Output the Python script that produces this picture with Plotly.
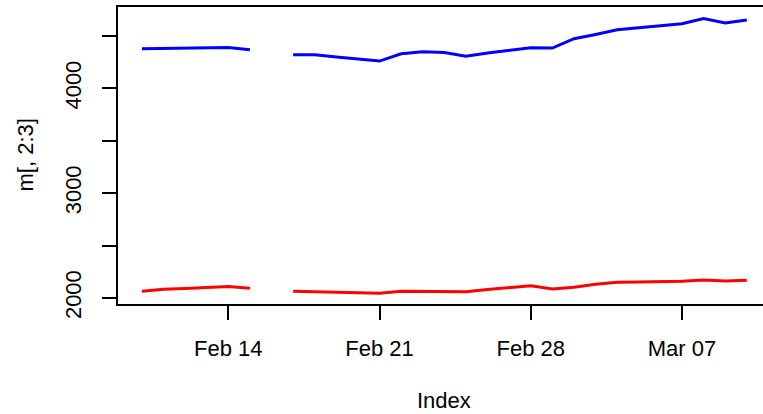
import plotly.graph_objects as go

dates = [
    "2021-02-10", "2021-02-11", "2021-02-12", "2021-02-13", "2021-02-14", "2021-02-15",
    "2021-02-16", "2021-02-17", "2021-02-18", "2021-02-19", "2021-02-20", "2021-02-21",
    "2021-02-22", "2021-02-23", "2021-02-24", "2021-02-25", "2021-02-26", "2021-02-27",
    "2021-02-28", "2021-03-01", "2021-03-02", "2021-03-03", "2021-03-04", "2021-03-05",
    "2021-03-06", "2021-03-07", "2021-03-08", "2021-03-09", "2021-03-10",
]
series_blue = [
    4378, 4381, 4384, 4388, 4391, 4369,
    None, 4321, 4321, 4300, 4280, 4261,
    4330, 4350, 4343, 4308, 4337, 4363,
    4388, 4385, 4474, 4515, 4560, 4579,
    4598, 4617, 4668, 4624, 4652,
]
series_red = [
    2064, 2083, 2091, 2099, 2108, 2093,
    None, 2064, 2059, 2054, 2050, 2045,
    2064, 2064, 2060, 2060, 2081, 2100,
    2117, 2086, 2102, 2131, 2150, 2153,
    2156, 2159, 2172, 2162, 2169,
]
x_tick_vals = ["2021-02-14", "2021-02-21", "2021-02-28", "2021-03-07"]
x_tick_text = ["Feb 14", "Feb 21", "Feb 28", "Mar 07"]
y_tick_vals = [2000, 2500, 3000, 3500, 4000, 4500]
y_tick_text = ["2000", "", "3000", "", "4000", ""]

FONT = "Liberation Sans, Arial, Helvetica, sans-serif"

fig = go.Figure()
fig.add_trace(go.Scatter(x=dates, y=series_blue, mode="lines",
                         line=dict(color="#0000FF", width=3), connectgaps=False))
fig.add_trace(go.Scatter(x=dates, y=series_red, mode="lines",
                         line=dict(color="#FF0000", width=3), connectgaps=False))

fig.update_layout(
    width=763, height=414,
    margin=dict(l=118, r=0, t=7, b=110),
    paper_bgcolor="white", plot_bgcolor="white",
    showlegend=False,
    font=dict(family=FONT, size=22, color="black"),
    xaxis=dict(
        type="date",
        range=["2021-02-08 21:27", "2021-03-10 18:00"],
        tickvals=x_tick_vals, ticktext=x_tick_text,
        showgrid=False, zeroline=False,
        showline=True, linecolor="black", linewidth=2, mirror=True,
        ticks="outside", ticklen=14, tickwidth=2, tickcolor="black",
        ticklabelstandoff=10,
    ),
    yaxis=dict(
        range=[1942, 4777],
        tickvals=y_tick_vals, ticktext=y_tick_text,
        tickangle=-90,
        showgrid=False, zeroline=False,
        showline=True, linecolor="black", linewidth=2,
        ticks="outside", ticklen=14, tickwidth=2, tickcolor="black",
        ticklabelstandoff=12,
    ),
    annotations=[
        dict(text="Index", xref="paper", yref="paper", x=0.506, y=0,
             yshift=-96, xanchor="center", yanchor="middle", showarrow=False,
             font=dict(family=FONT, size=22)),
        dict(text="m[, 2:3]", xref="paper", yref="paper", x=0, y=0.5,
             xshift=-93, xanchor="center", yanchor="middle", showarrow=False,
             textangle=-90, font=dict(family=FONT, size=22)),
    ],
)

fig.write_html(
    "out.html",
    config={"displayModeBar": False},
    post_script="document.body.style.margin='0';document.body.style.overflow='hidden';",
)
